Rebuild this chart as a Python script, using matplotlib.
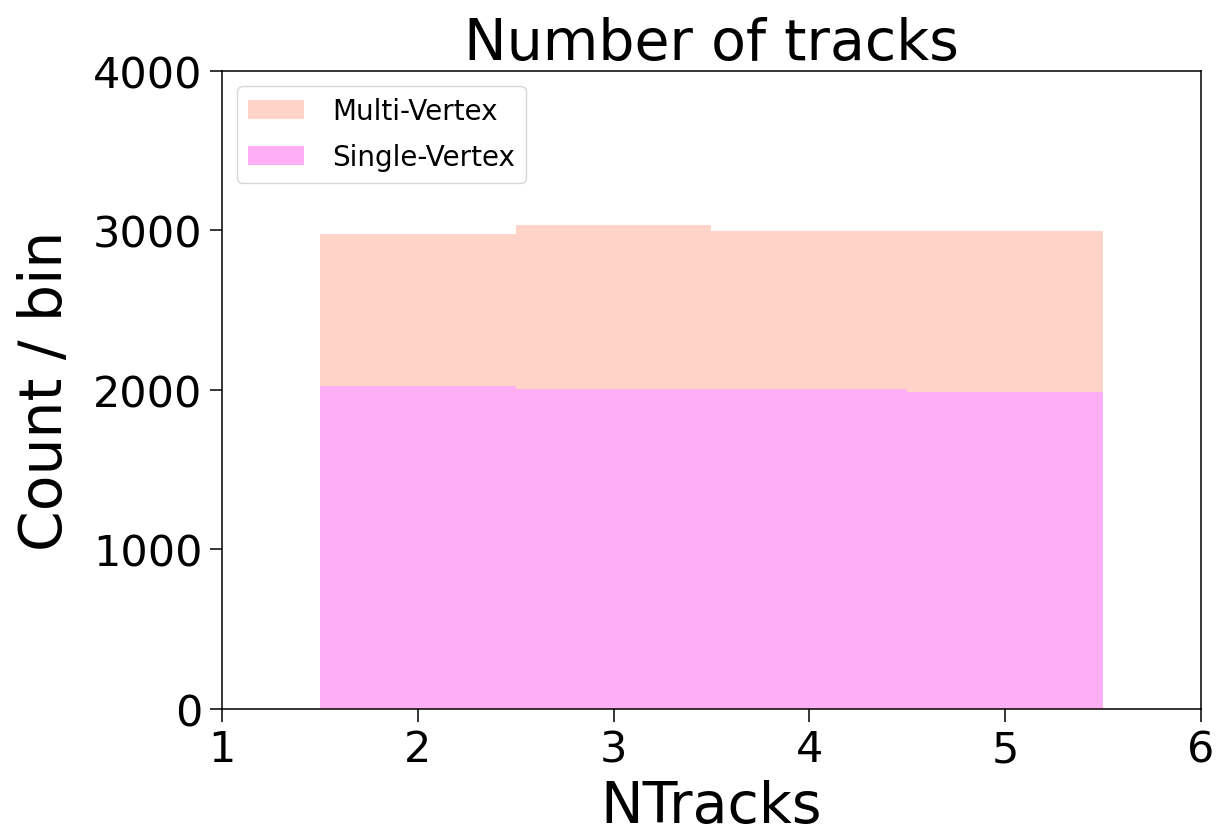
import numpy as np
import matplotlib.pyplot as plt

# bin centres (NTracks) and counts per bin
ntracks = [2, 3, 4, 5]
bin_edges = [1.5, 2.5, 3.5, 4.5, 5.5]
single_vertex = [2023, 2006, 2006, 1989]
multi_vertex = [957, 1028, 991, 1008]

fig = plt.figure(figsize=(12.16, 8.37), dpi=100)
ax = fig.add_axes([0.1826, 0.152, 0.805, 0.762])

ax.hist([ntracks, ntracks], bins=bin_edges,
        weights=[single_vertex, multi_vertex],
        stacked=True, histtype='stepfilled',
        color=['#FDAEF5', '#FED4C8'],
        label=['Single-Vertex', 'Multi-Vertex'])

ax.set_xlim(1, 6)
ax.set_ylim(0, 4000)
ax.set_xticks([1, 2, 3, 4, 5, 6])
ax.set_yticks([0, 1000, 2000, 3000, 4000])
ax.tick_params(labelsize=31, length=9, width=1.1, pad=5)
for s in ax.spines.values():
    s.set_linewidth(1.1)

ax.set_title('Number of tracks', fontsize=41, pad=8)
ax.set_xlabel('NTracks', fontsize=41, labelpad=6)
ax.set_ylabel('Count / bin', fontsize=42, labelpad=14)

ax.legend(loc='upper left', fontsize=20, borderaxespad=0.55,
          labelspacing=0.65, handletextpad=1.0)

fig.savefig('out.png', dpi=100)
